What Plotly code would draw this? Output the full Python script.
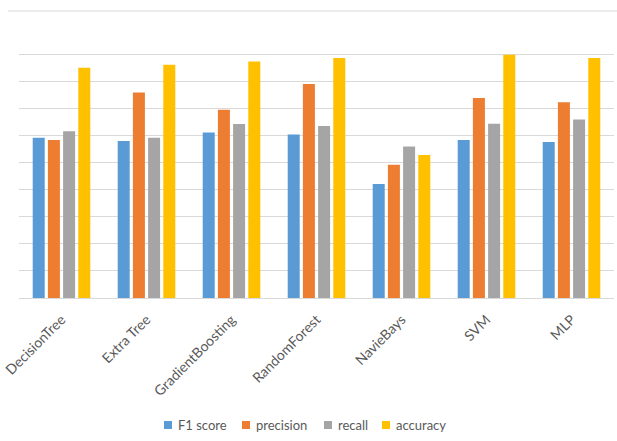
import plotly.graph_objects as go

models = ["DecisionTree", "Extra Tree", "GradientBoosting", "RandomForest",
          "NavieBays", "SVM", "MLP"]
f1_score = [0.591, 0.579, 0.611, 0.603, 0.421, 0.583, 0.576]
precision = [0.583, 0.758, 0.695, 0.790, 0.492, 0.738, 0.722]
recall = [0.615, 0.591, 0.642, 0.635, 0.559, 0.643, 0.659]
accuracy = [0.850, 0.861, 0.873, 0.886, 0.528, 0.898, 0.886]

series = [
    ("F1 score", f1_score, "#5B9BD5"),
    ("precision", precision, "#ED7D31"),
    ("recall", recall, "#A5A5A5"),
    ("accuracy", accuracy, "#FFC000"),
]

FONT = "Lato, 'Open Sans', sans-serif"
GRID = "#d9d9d9"
TEXT = "#595959"

W, H = 617, 441
L, R, T, B = 19, 3, 27, 143
PW, PH = W - L - R, H - T - B


def px_x(x):
    return (x - L) / PW


def px_y(y):
    return (H - B - y) / PH


fig = go.Figure()
for name, vals, color in series:
    fig.add_trace(go.Bar(
        x=models, y=vals, name=name, showlegend=False,
        marker=dict(color=color, line=dict(width=0)),
    ))

# compact legend row beneath the category labels
legend_swatch_x = [164, 242, 324, 382]
shapes = [dict(
    type="line", xref="paper", yref="paper",
    x0=px_x(8), x1=px_x(W + 5), y0=px_y(11), y1=px_y(11),
    line=dict(color=GRID, width=1),
)]
annotations = []
for (name, _, color), sx in zip(series, legend_swatch_x):
    shapes.append(dict(
        type="rect", xref="paper", yref="paper",
        x0=px_x(sx), x1=px_x(sx + 8), y0=px_y(429), y1=px_y(421),
        fillcolor=color, line=dict(width=0),
    ))
    annotations.append(dict(
        text=name, xref="paper", yref="paper",
        x=px_x(sx + 12), y=px_y(425), xanchor="left", yanchor="middle",
        showarrow=False, font=dict(family=FONT, size=13, color=TEXT),
    ))

fig.update_layout(
    width=W, height=H,
    margin=dict(l=L, r=R, t=T, b=B),
    paper_bgcolor="white", plot_bgcolor="white",
    barmode="group", bargap=0.285, bargroupgap=0.21,
    font=dict(family=FONT, size=13, color=TEXT),
    showlegend=False,
    xaxis=dict(
        tickangle=-45, showgrid=False, showline=True, linecolor=GRID,
        linewidth=1, ticks="", automargin=False, ticklabelstandoff=7,
        tickfont=dict(family=FONT, size=14, color=TEXT),
    ),
    yaxis=dict(
        range=[0, 1.0], dtick=0.1, showgrid=True, gridcolor=GRID,
        gridwidth=1, zeroline=False, showticklabels=False, ticks="",
        showline=False, automargin=False,
    ),
    shapes=shapes,
    annotations=annotations,
)

fig.write_html("out.html")
